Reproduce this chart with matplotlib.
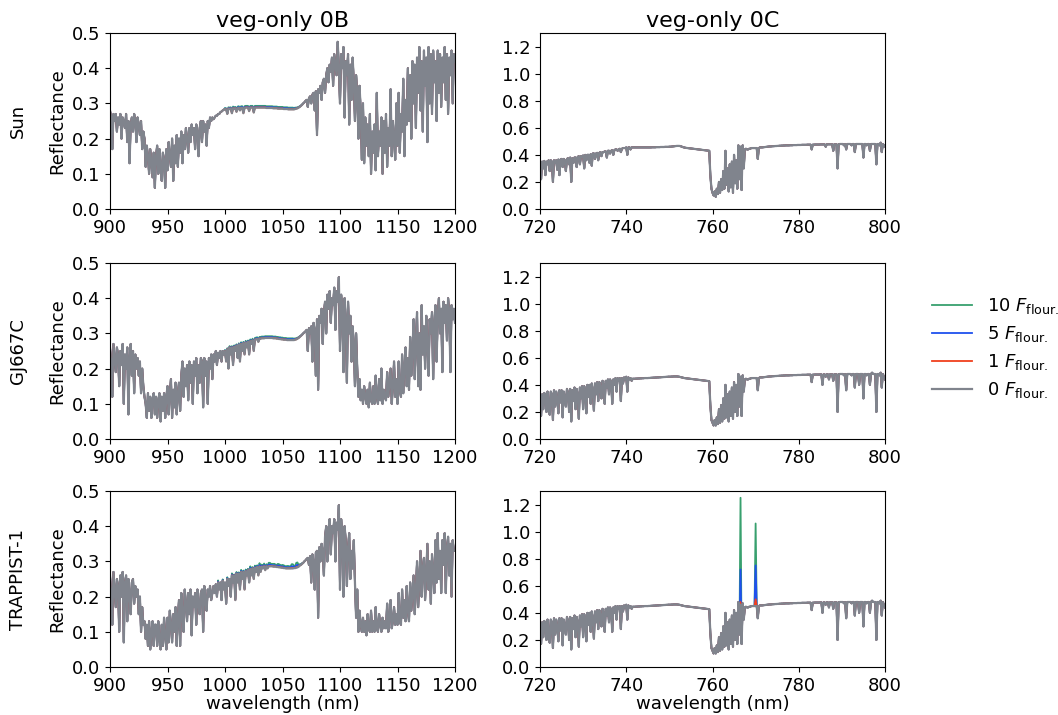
import numpy as np
import matplotlib
matplotlib.use("Agg")
import matplotlib.pyplot as plt

# ---------------- data ----------------
stars = ["Sun", "GJ667C", "TRAPPIST-1"]
panel_titles = ["veg-only 0B", "veg-only 0C"]
flour_levels = [10, 5, 1, 0]
series_labels = [r"10 $F_{\mathrm{flour.}}$", r"5 $F_{\mathrm{flour.}}$",
                 r"1 $F_{\mathrm{flour.}}$", r"0 $F_{\mathrm{flour.}}$"]

# wavelength grids (nm)
wl_0B = np.arange(900, 1201, 1)          # 301 samples
wl_0C = np.arange(720, 800.001, 0.25)    # 321 samples

# 0 F_flour reflectance, band 0B (900-1200 nm, 1 nm)
sun_0B = [
    0.28, 0.26, 0.17, 0.27, 0.25, 0.27, 0.22, 0.26, 0.24, 0.27,
    0.20, 0.26, 0.25, 0.23, 0.27, 0.19, 0.25, 0.13, 0.24, 0.26,
    0.22, 0.27, 0.25, 0.19, 0.26, 0.24, 0.21, 0.25, 0.17, 0.22,
    0.20, 0.12, 0.18, 0.15, 0.10, 0.17, 0.13, 0.09, 0.16, 0.06,
    0.15, 0.18, 0.10, 0.17, 0.12, 0.08, 0.16, 0.14, 0.06, 0.17,
    0.11, 0.19, 0.15, 0.12, 0.20, 0.08, 0.18, 0.13, 0.21, 0.12,
    0.20, 0.16, 0.22, 0.13, 0.21, 0.17, 0.23, 0.20, 0.16, 0.23,
    0.19, 0.24, 0.21, 0.23, 0.17, 0.24, 0.22, 0.15, 0.23, 0.25,
    0.19, 0.25, 0.22, 0.24, 0.18, 0.25, 0.23, 0.26, 0.25, 0.26,
    0.255, 0.26, 0.265, 0.265, 0.27, 0.27, 0.275, 0.277, 0.28, 0.282,
    0.284, 0.283, 0.27, 0.285, 0.284, 0.285, 0.272, 0.286, 0.285, 0.286,
    0.276, 0.286, 0.287, 0.28, 0.287, 0.287, 0.272, 0.287, 0.288, 0.288,
    0.288, 0.278, 0.288, 0.288, 0.288, 0.274, 0.288, 0.288, 0.288, 0.288,
    0.288, 0.288, 0.288, 0.288, 0.288, 0.288, 0.287, 0.287, 0.287, 0.287,
    0.287, 0.287, 0.286, 0.286, 0.286, 0.286, 0.285, 0.285, 0.285, 0.285,
    0.285, 0.284, 0.284, 0.284, 0.284, 0.283, 0.283, 0.283, 0.283, 0.283,
    0.283, 0.284, 0.285, 0.286, 0.288, 0.29, 0.293, 0.296, 0.30, 0.303,
    0.307, 0.31, 0.29, 0.315, 0.32, 0.30, 0.325, 0.33, 0.28, 0.335,
    0.21, 0.34, 0.33, 0.35, 0.31, 0.36, 0.37, 0.33, 0.38, 0.40,
    0.36, 0.41, 0.39, 0.43, 0.35, 0.44, 0.41, 0.38, 0.475, 0.40,
    0.30, 0.44, 0.40, 0.46, 0.26, 0.42, 0.38, 0.44, 0.24, 0.41,
    0.31, 0.43, 0.36, 0.25, 0.38, 0.33, 0.20, 0.35, 0.28, 0.14,
    0.30, 0.13, 0.26, 0.18, 0.24, 0.15, 0.27, 0.10, 0.22, 0.16,
    0.24, 0.11, 0.33, 0.15, 0.22, 0.18, 0.26, 0.10, 0.25, 0.16,
    0.27, 0.12, 0.23, 0.18, 0.34, 0.15, 0.25, 0.20, 0.14, 0.30,
    0.18, 0.33, 0.16, 0.27, 0.22, 0.37, 0.15, 0.31, 0.24, 0.40,
    0.25, 0.38, 0.20, 0.42, 0.30, 0.41, 0.23, 0.43, 0.33, 0.46,
    0.28, 0.42, 0.22, 0.45, 0.35, 0.43, 0.19, 0.46, 0.30, 0.44,
    0.27, 0.45, 0.36, 0.42, 0.25, 0.45, 0.33, 0.44, 0.29, 0.43,
    0.36, 0.46, 0.31, 0.44, 0.27, 0.43, 0.38, 0.45, 0.30, 0.44,
    0.42]
gj_0B = [
    0.26, 0.22, 0.12, 0.27, 0.23, 0.19, 0.26, 0.24, 0.15, 0.25,
    0.21, 0.27, 0.10, 0.24, 0.20, 0.26, 0.07, 0.23, 0.27, 0.18,
    0.25, 0.13, 0.24, 0.20, 0.23, 0.18, 0.22, 0.13, 0.20, 0.15,
    0.12, 0.10, 0.06, 0.13, 0.08, 0.12, 0.06, 0.11, 0.13, 0.07,
    0.12, 0.06, 0.11, 0.13, 0.05, 0.12, 0.08, 0.13, 0.06, 0.12,
    0.15, 0.07, 0.13, 0.17, 0.06, 0.14, 0.09, 0.16, 0.07, 0.13,
    0.16, 0.08, 0.18, 0.22, 0.12, 0.20, 0.15, 0.21, 0.11, 0.22,
    0.16, 0.21, 0.10, 0.22, 0.18, 0.23, 0.13, 0.21, 0.16, 0.23,
    0.22, 0.09, 0.23, 0.18, 0.22, 0.10, 0.23, 0.20, 0.24, 0.17,
    0.24, 0.22, 0.25, 0.21, 0.245, 0.23, 0.25, 0.22, 0.25, 0.24,
    0.25, 0.22, 0.255, 0.20, 0.26, 0.24, 0.26, 0.21, 0.262, 0.25,
    0.265, 0.23, 0.268, 0.22, 0.27, 0.25, 0.272, 0.24, 0.274, 0.26,
    0.276, 0.24, 0.278, 0.27, 0.28, 0.25, 0.282, 0.283, 0.284, 0.276,
    0.285, 0.285, 0.286, 0.286, 0.286, 0.287, 0.287, 0.287, 0.287, 0.287,
    0.287, 0.287, 0.286, 0.286, 0.286, 0.285, 0.285, 0.284, 0.284, 0.283,
    0.283, 0.282, 0.282, 0.282, 0.281, 0.281, 0.281, 0.281, 0.281, 0.281,
    0.281, 0.282, 0.283, 0.285, 0.287, 0.29, 0.293, 0.296, 0.30, 0.303,
    0.306, 0.31, 0.25, 0.315, 0.30, 0.32, 0.22, 0.33, 0.31, 0.18,
    0.34, 0.14, 0.35, 0.33, 0.37, 0.27, 0.36, 0.39, 0.30, 0.41,
    0.37, 0.42, 0.33, 0.40, 0.38, 0.43, 0.31, 0.42, 0.39, 0.46,
    0.25, 0.41, 0.37, 0.19, 0.40, 0.34, 0.16, 0.39, 0.30, 0.35,
    0.22, 0.32, 0.27, 0.15, 0.30, 0.20, 0.12, 0.17, 0.11, 0.14,
    0.10, 0.15, 0.12, 0.10, 0.14, 0.09, 0.16, 0.11, 0.10, 0.15,
    0.10, 0.18, 0.12, 0.10, 0.17, 0.11, 0.20, 0.10, 0.14, 0.12,
    0.11, 0.19, 0.12, 0.16, 0.20, 0.10, 0.15, 0.22, 0.12, 0.17,
    0.10, 0.22, 0.14, 0.12, 0.24, 0.13, 0.20, 0.26, 0.15, 0.23,
    0.14, 0.29, 0.18, 0.25, 0.34, 0.17, 0.28, 0.36, 0.15, 0.30,
    0.14, 0.38, 0.24, 0.32, 0.20, 0.35, 0.27, 0.18, 0.34, 0.30,
    0.36, 0.17, 0.33, 0.38, 0.22, 0.35, 0.40, 0.30, 0.37, 0.19,
    0.39, 0.33, 0.38, 0.28, 0.40, 0.36, 0.19, 0.38, 0.34, 0.37,
    0.33]
trap_0B = [
    0.26, 0.21, 0.12, 0.27, 0.22, 0.17, 0.25, 0.23, 0.10, 0.26,
    0.20, 0.27, 0.07, 0.24, 0.26, 0.13, 0.25, 0.21, 0.15, 0.24,
    0.25, 0.18, 0.23, 0.20, 0.22, 0.15, 0.20, 0.10, 0.17, 0.12,
    0.13, 0.08, 0.12, 0.06, 0.13, 0.05, 0.10, 0.13, 0.06, 0.12,
    0.12, 0.06, 0.13, 0.08, 0.05, 0.12, 0.06, 0.14, 0.09, 0.05,
    0.14, 0.07, 0.16, 0.12, 0.07, 0.15, 0.10, 0.17, 0.06, 0.14,
    0.19, 0.06, 0.21, 0.15, 0.10, 0.22, 0.18, 0.13, 0.21, 0.15,
    0.22, 0.09, 0.20, 0.17, 0.21, 0.12, 0.22, 0.18, 0.15, 0.21,
    0.22, 0.10, 0.23, 0.19, 0.16, 0.22, 0.20, 0.23, 0.19, 0.21,
    0.23, 0.21, 0.235, 0.20, 0.24, 0.22, 0.24, 0.19, 0.245, 0.22,
    0.24, 0.18, 0.25, 0.23, 0.25, 0.20, 0.26, 0.24, 0.26, 0.19,
    0.265, 0.24, 0.265, 0.22, 0.27, 0.25, 0.27, 0.22, 0.272, 0.26,
    0.275, 0.24, 0.278, 0.26, 0.28, 0.25, 0.282, 0.27, 0.284, 0.26,
    0.285, 0.27, 0.285, 0.28, 0.286, 0.275, 0.286, 0.28, 0.286, 0.286,
    0.286, 0.286, 0.285, 0.285, 0.285, 0.284, 0.284, 0.283, 0.283, 0.282,
    0.282, 0.281, 0.281, 0.28, 0.28, 0.28, 0.28, 0.28, 0.28, 0.28,
    0.281, 0.281, 0.282, 0.283, 0.285, 0.288, 0.29, 0.293, 0.296, 0.30,
    0.303, 0.307, 0.31, 0.29, 0.315, 0.24, 0.32, 0.30, 0.22, 0.325,
    0.33, 0.14, 0.34, 0.30, 0.35, 0.33, 0.26, 0.37, 0.40, 0.30,
    0.39, 0.42, 0.32, 0.40, 0.38, 0.42, 0.30, 0.41, 0.39, 0.46,
    0.22, 0.42, 0.38, 0.20, 0.40, 0.36, 0.23, 0.34, 0.38, 0.25,
    0.33, 0.28, 0.36, 0.24, 0.14, 0.22, 0.10, 0.16, 0.12, 0.10,
    0.14, 0.10, 0.13, 0.09, 0.15, 0.11, 0.10, 0.16, 0.10, 0.13,
    0.10, 0.17, 0.11, 0.10, 0.15, 0.12, 0.10, 0.14, 0.11, 0.13,
    0.11, 0.18, 0.10, 0.14, 0.19, 0.11, 0.13, 0.17, 0.12, 0.15,
    0.12, 0.21, 0.13, 0.12, 0.22, 0.14, 0.19, 0.13, 0.23, 0.16,
    0.13, 0.24, 0.16, 0.21, 0.26, 0.15, 0.22, 0.30, 0.17, 0.25,
    0.33, 0.20, 0.28, 0.31, 0.19, 0.27, 0.35, 0.22, 0.30, 0.18,
    0.32, 0.27, 0.21, 0.36, 0.24, 0.38, 0.25, 0.33, 0.21, 0.36,
    0.29, 0.38, 0.21, 0.34, 0.37, 0.26, 0.35, 0.20, 0.36, 0.33,
    0.33]

# fluorescence excess for 10 F_flour in band 0B, 990-1068 nm in 2 nm bins
exc_start_0B = 990
sun_exc10_0B = [0, 0, 0, 0, 0, 0.003, 0.004, 0.004, 0.005, 0.004,
                0.005, 0.005, 0.005, 0.005, 0.005, 0.005, 0.005, 0.005, 0.005, 0.005,
                0.005, 0.005, 0.005, 0.005, 0.005, 0.005, 0.005, 0.005, 0.005, 0.005,
                0.005, 0.005, 0.005, 0.005, 0.005, 0.004, 0.003, 0.002, 0.001, 0]
gj_exc10_0B = [0, 0, 0, 0, 0, 0.003, 0.003, 0.004, 0.004, 0.004,
               0.004, 0.004, 0.005, 0.004, 0.005, 0.004, 0.005, 0.005, 0.005, 0.005,
               0.005, 0.005, 0.005, 0.005, 0.005, 0.005, 0.005, 0.005, 0.005, 0.005,
               0.005, 0.005, 0.005, 0.005, 0.005, 0.004, 0.003, 0.002, 0.001, 0]
trap_exc10_0B = [0, 0, 0.006, 0, 0.004, 0, 0.005, 0, 0.006, 0.003,
                 0.005, 0.004, 0.006, 0.004, 0.005, 0.004, 0.008, 0.004, 0.006, 0.005,
                 0.010, 0.006, 0.008, 0.006, 0.010, 0.007, 0.008, 0.006, 0.009, 0.007,
                 0.008, 0.006, 0.007, 0.006, 0.012, 0.006, 0.014, 0.004, 0.002, 0]

# 0 F_flour reflectance, band 0C (720-800 nm, 0.25 nm)
sun_0C = [
    0.34, 0.22, 0.35, 0.30, 0.355, 0.25, 0.35, 0.33, 0.36, 0.28,
    0.36, 0.35, 0.20, 0.36, 0.34, 0.36, 0.29, 0.365, 0.25, 0.365,
    0.37, 0.31, 0.37, 0.36, 0.28, 0.37, 0.375, 0.33, 0.38, 0.20,
    0.375, 0.34, 0.38, 0.38, 0.31, 0.385, 0.39, 0.33, 0.39, 0.39,
    0.395, 0.30, 0.40, 0.36, 0.40, 0.40, 0.34, 0.405, 0.32, 0.41,
    0.41, 0.37, 0.41, 0.415, 0.36, 0.415, 0.42, 0.39, 0.42, 0.42,
    0.425, 0.425, 0.38, 0.43, 0.43, 0.41, 0.43, 0.435, 0.40, 0.435,
    0.44, 0.44, 0.43, 0.44, 0.445, 0.42, 0.445, 0.45, 0.45, 0.45,
    0.455, 0.40, 0.455, 0.455, 0.44, 0.455, 0.455, 0.455, 0.455, 0.455,
    0.455, 0.455, 0.455, 0.455, 0.455, 0.455, 0.455, 0.455, 0.455, 0.455,
    0.455, 0.455, 0.455, 0.455, 0.456, 0.456, 0.456, 0.456, 0.457, 0.457,
    0.457, 0.457, 0.458, 0.458, 0.458, 0.458, 0.459, 0.459, 0.459, 0.459,
    0.46, 0.46, 0.461, 0.462, 0.463, 0.464, 0.465, 0.466, 0.466, 0.466,
    0.465, 0.462, 0.459, 0.456, 0.454, 0.452, 0.451, 0.45, 0.449, 0.448,
    0.447, 0.446, 0.445, 0.444, 0.443, 0.442, 0.441, 0.44, 0.439, 0.438,
    0.437, 0.436, 0.435, 0.434, 0.433, 0.432, 0.431, 0.43, 0.25, 0.15,
    0.12, 0.10, 0.13, 0.09, 0.15, 0.11, 0.20, 0.12, 0.22, 0.14,
    0.28, 0.15, 0.43, 0.18, 0.30, 0.13, 0.33, 0.16, 0.35, 0.12,
    0.40, 0.19, 0.36, 0.15, 0.47, 0.22, 0.46, 0.14, 0.47, 0.30,
    0.44, 0.445, 0.44, 0.44, 0.445, 0.445, 0.45, 0.45, 0.45, 0.45,
    0.45, 0.45, 0.37, 0.45, 0.455, 0.455, 0.455, 0.456, 0.457, 0.458,
    0.459, 0.46, 0.461, 0.462, 0.462, 0.463, 0.464, 0.464, 0.465, 0.465,
    0.466, 0.466, 0.467, 0.467, 0.468, 0.468, 0.469, 0.469, 0.47, 0.47,
    0.47, 0.47, 0.471, 0.471, 0.471, 0.472, 0.472, 0.472, 0.472, 0.473,
    0.473, 0.473, 0.473, 0.474, 0.474, 0.474, 0.474, 0.474, 0.475, 0.475,
    0.475, 0.475, 0.44, 0.475, 0.475, 0.476, 0.476, 0.476, 0.476, 0.476,
    0.477, 0.477, 0.477, 0.477, 0.477, 0.46, 0.478, 0.478, 0.478, 0.478,
    0.478, 0.478, 0.43, 0.478, 0.478, 0.478, 0.30, 0.478, 0.48, 0.48,
    0.48, 0.48, 0.47, 0.48, 0.44, 0.48, 0.48, 0.48, 0.48, 0.47,
    0.48, 0.48, 0.42, 0.48, 0.48, 0.48, 0.48, 0.48, 0.48, 0.48,
    0.38, 0.48, 0.48, 0.47, 0.48, 0.48, 0.43, 0.48, 0.48, 0.48,
    0.48, 0.48, 0.33, 0.48, 0.48, 0.47, 0.49, 0.42, 0.48, 0.46,
    0.47]
gj_0C = [
    0.28, 0.17, 0.33, 0.22, 0.34, 0.30, 0.20, 0.35, 0.26, 0.18,
    0.35, 0.33, 0.14, 0.36, 0.24, 0.35, 0.30, 0.19, 0.36, 0.27,
    0.36, 0.16, 0.35, 0.31, 0.24, 0.37, 0.34, 0.20, 0.37, 0.13,
    0.36, 0.28, 0.38, 0.22, 0.37, 0.33, 0.15, 0.38, 0.30, 0.39,
    0.22, 0.39, 0.34, 0.19, 0.40, 0.31, 0.40, 0.26, 0.41, 0.36,
    0.21, 0.41, 0.33, 0.42, 0.28, 0.42, 0.38, 0.30, 0.43, 0.40,
    0.26, 0.43, 0.38, 0.44, 0.33, 0.44, 0.42, 0.26, 0.44, 0.40,
    0.45, 0.35, 0.45, 0.43, 0.45, 0.28, 0.45, 0.41, 0.455, 0.44,
    0.46, 0.35, 0.455, 0.44, 0.45, 0.43, 0.445, 0.445, 0.445, 0.446,
    0.446, 0.447, 0.447, 0.448, 0.448, 0.449, 0.449, 0.45, 0.45, 0.45,
    0.45, 0.451, 0.451, 0.452, 0.452, 0.453, 0.453, 0.454, 0.454, 0.455,
    0.455, 0.456, 0.456, 0.457, 0.457, 0.458, 0.458, 0.459, 0.459, 0.46,
    0.46, 0.46, 0.461, 0.461, 0.462, 0.462, 0.462, 0.462, 0.461, 0.46,
    0.458, 0.456, 0.454, 0.452, 0.45, 0.449, 0.448, 0.447, 0.446, 0.445,
    0.444, 0.443, 0.442, 0.441, 0.44, 0.439, 0.438, 0.437, 0.436, 0.435,
    0.434, 0.433, 0.432, 0.431, 0.43, 0.429, 0.428, 0.427, 0.25, 0.14,
    0.12, 0.10, 0.14, 0.10, 0.16, 0.11, 0.22, 0.12, 0.25, 0.13,
    0.30, 0.15, 0.40, 0.16, 0.33, 0.13, 0.35, 0.17, 0.38, 0.15,
    0.42, 0.20, 0.40, 0.17, 0.48, 0.24, 0.46, 0.17, 0.47, 0.35,
    0.44, 0.445, 0.44, 0.44, 0.445, 0.445, 0.45, 0.45, 0.45, 0.45,
    0.45, 0.45, 0.36, 0.45, 0.455, 0.455, 0.455, 0.456, 0.457, 0.458,
    0.459, 0.46, 0.461, 0.462, 0.462, 0.463, 0.464, 0.464, 0.465, 0.465,
    0.466, 0.466, 0.467, 0.467, 0.468, 0.468, 0.469, 0.469, 0.47, 0.47,
    0.47, 0.47, 0.471, 0.471, 0.471, 0.472, 0.472, 0.472, 0.472, 0.473,
    0.473, 0.473, 0.473, 0.474, 0.474, 0.474, 0.474, 0.474, 0.475, 0.475,
    0.475, 0.475, 0.42, 0.475, 0.475, 0.476, 0.476, 0.476, 0.476, 0.476,
    0.477, 0.477, 0.40, 0.477, 0.477, 0.46, 0.478, 0.478, 0.44, 0.478,
    0.478, 0.478, 0.43, 0.478, 0.478, 0.478, 0.20, 0.478, 0.48, 0.48,
    0.48, 0.48, 0.47, 0.48, 0.36, 0.48, 0.48, 0.48, 0.48, 0.47,
    0.48, 0.48, 0.38, 0.48, 0.48, 0.48, 0.40, 0.48, 0.48, 0.48,
    0.30, 0.48, 0.48, 0.47, 0.48, 0.48, 0.40, 0.48, 0.49, 0.48,
    0.48, 0.48, 0.20, 0.48, 0.48, 0.47, 0.49, 0.38, 0.48, 0.46,
    0.44]
# GJ667C and TRAPPIST-1 0C spectra are indistinguishable at this scale
trap_0C = list(gj_0C)

# fluorescence emission peaks in band 0C for TRAPPIST-1 (nm, peak per level)
trap_line_wl_0C = [766.5, 770.0]
trap_peak_10F = [1.25, 1.06]
trap_peak_5F = [0.72, 0.75]
trap_peak_1F = [0.48, 0.50]

# ---------------- style ----------------
colors = ["#38a06e", "#1f50ee", "#f0401e", "#80848d"]
widths = [1.3, 1.3, 1.3, 1.6]
FS = 13

fig = plt.figure(figsize=(10.58, 7.15), dpi=100)

col_x = [110 / 1058, 540 / 1058]
col_w = 345 / 1058
row_bottom = [1 - 209 / 715, 1 - 439 / 715, 1 - 667 / 715]
row_h = 176 / 715

base_0B = [sun_0B, gj_0B, trap_0B]
exc_0B = [sun_exc10_0B, gj_exc10_0B, trap_exc10_0B]
base_0C = [sun_0C, gj_0C, trap_0C]


def series_0B(i, level):
    y = np.array(base_0B[i], dtype=float)
    i0 = int(np.searchsorted(wl_0B, exc_start_0B))
    e = np.repeat(np.array(exc_0B[i], dtype=float), 2) * level / 10.0
    y[i0:i0 + len(e)] += e
    return y


def series_0C(i, level):
    y = np.array(base_0C[i], dtype=float)
    if i == 2 and level > 0:
        peaks = {10: trap_peak_10F, 5: trap_peak_5F, 1: trap_peak_1F}[level]
        for w, p in zip(trap_line_wl_0C, peaks):
            k = int(np.argmin(np.abs(wl_0C - w)))
            y[k] = p
    return y


handles = []
for r, star in enumerate(stars):
    axL = fig.add_axes([col_x[0], row_bottom[r], col_w, row_h])
    axR = fig.add_axes([col_x[1], row_bottom[r], col_w, row_h])
    for j, lev in enumerate(flour_levels):
        h, = axL.plot(wl_0B, series_0B(r, lev), color=colors[j], lw=widths[j],
                      label=series_labels[j])
        axR.plot(wl_0C, series_0C(r, lev), color=colors[j], lw=widths[j])
        if r == 0:
            handles.append(h)
    axL.set_xlim(900, 1200)
    axL.set_ylim(0, 0.5)
    axL.set_xticks([900, 950, 1000, 1050, 1100, 1150, 1200])
    axL.set_yticks([0.0, 0.1, 0.2, 0.3, 0.4, 0.5])
    axR.set_xlim(720, 800)
    axR.set_ylim(0, 1.3)
    axR.set_xticks([720, 740, 760, 780, 800])
    axR.set_yticks([0.0, 0.2, 0.4, 0.6, 0.8, 1.0, 1.2])
    for ax in (axL, axR):
        ax.tick_params(labelsize=FS)
    axL.set_ylabel("Reflectance", fontsize=FS)
    fig.text(18 / 1058, row_bottom[r] + row_h / 2, star, rotation=90,
             ha="center", va="center", fontsize=FS)
    if r == 0:
        axL.set_title(panel_titles[0], fontsize=16, pad=4)
        axR.set_title(panel_titles[1], fontsize=16, pad=4)
    if r == 2:
        axL.set_xlabel("wavelength (nm)", fontsize=FS, labelpad=0)
        axR.set_xlabel("wavelength (nm)", fontsize=FS, labelpad=0)

fig.legend(handles=handles, labels=series_labels, loc="center left",
           bbox_to_anchor=(0.866, 0.513), frameon=False, fontsize=FS,
           handlelength=2.2, labelspacing=0.45)

fig.savefig("out.png", dpi=100)
